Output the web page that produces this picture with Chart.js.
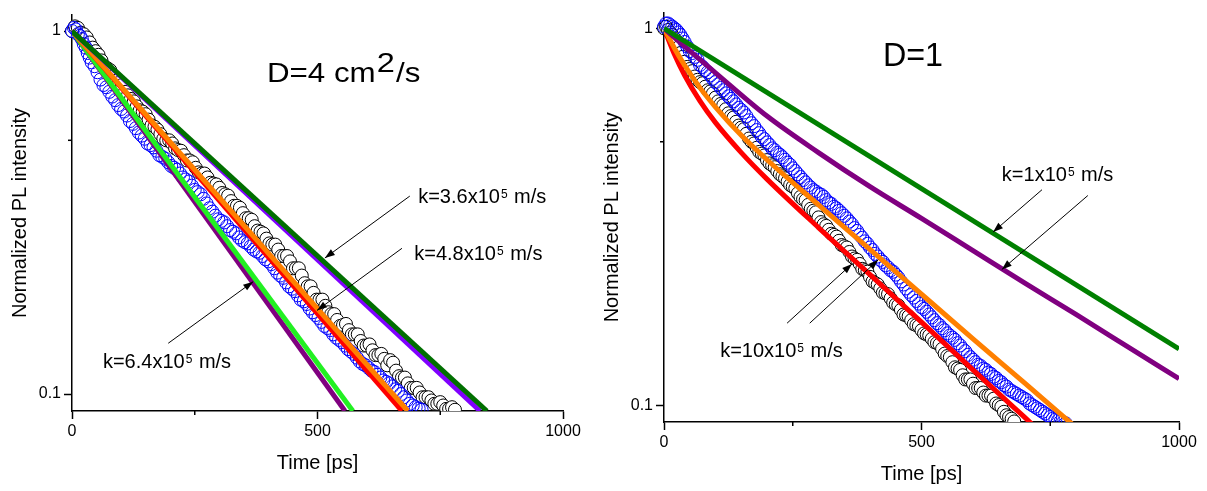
<!DOCTYPE html>
<html>
<head>
<meta charset="utf-8">
<script src="https://cdn.jsdelivr.net/npm/chart.js@4.4.1/dist/chart.umd.min.js"></script>
<style>
    html, body { margin: 0; padding: 0; background: #fff; }
    #wrap { position: relative; width: 1207px; height: 491px; }
    #left { position: absolute; left: 0; top: 0; }
    #right { position: absolute; left: 600px; top: 0; }
</style>
</head>
<body>
<div id="wrap">
    <canvas id="left" width="600" height="491"></canvas>
    <canvas id="right" width="607" height="491"></canvas>
</div>
<script>
const FONT = 'Arial, "Liberation Sans", Helvetica, sans-serif';

// ---- left panel (D=4 cm2/s) : measured decays ----
const leftBlackT = [0,12,24,36,48,60,72,84,96,108,120,132,144,156,168,180,192,204,216,228,240,252,264,276,288,300,312,324,336,348,360,372,384,396,408,420,432,444,456,468,480,492,504,516,528,540,552,564,576,588,600,612,624,636,648,660,672,684,696,708,720,732,744,756,768,780];
const leftBlackI = [1.00,1.02,0.98,0.93,0.88,0.83,0.79,0.75,0.72,0.68,0.65,0.62,0.60,0.57,0.545,0.52,0.50,0.49,0.47,0.455,0.44,0.42,0.405,0.395,0.38,0.37,0.355,0.34,0.33,0.315,0.305,0.29,0.28,0.268,0.258,0.25,0.24,0.232,0.222,0.212,0.198,0.19,0.182,0.175,0.166,0.16,0.155,0.150,0.146,0.14,0.136,0.132,0.128,0.125,0.124,0.116,0.111,0.107,0.104,0.101,0.098,0.096,0.094,0.093,0.091,0.0905];
const leftBlackMidT = [6,18,30,42,54,66,78,90,102,114,126,138,150,162,174,186,198,210,222,234,246,258,270,282,294,306,318,330,342,354,366,378,390,402,414,426,438,450,462,474,486,498,510,522,534,546,558,570,582,594,606,618,630,642,654,666,678,690,702,714,726,738,750,762,774];
const leftBlackMidI = [1.03,0.99,0.96,0.90,0.86,0.80,0.78,0.73,0.71,0.665,0.64,0.605,0.59,0.55,0.535,0.505,0.50,0.475,0.468,0.44,0.435,0.408,0.405,0.382,0.378,0.358,0.352,0.33,0.326,0.305,0.302,0.282,0.277,0.26,0.258,0.24,0.24,0.222,0.222,0.202,0.198,0.182,0.182,0.168,0.166,0.154,0.156,0.146,0.146,0.136,0.137,0.128,0.129,0.12,0.122,0.112,0.111,0.104,0.104,0.098,0.098,0.094,0.095,0.091,0.092];
const leftBlueT = [0,8,16,24,32,40,52,64,76,88,100,112,124,136,148,160,172,184,196,208,220,232,244,256,268,280,292,304,316,328,340,352,364,376,388,400,412,424,436,448,460,472,484,496,508,520,532,544,556,568,580,592,604,616,628,640,652,664,676,688,700,712];
const leftBlueI = [1.00,1.01,0.97,0.92,0.87,0.82,0.77,0.71,0.68,0.645,0.61,0.585,0.555,0.525,0.505,0.485,0.468,0.45,0.435,0.42,0.405,0.39,0.375,0.36,0.345,0.325,0.31,0.30,0.29,0.28,0.27,0.262,0.255,0.247,0.24,0.232,0.222,0.212,0.203,0.195,0.187,0.18,0.172,0.165,0.158,0.152,0.146,0.141,0.136,0.131,0.126,0.121,0.118,0.115,0.111,0.108,0.105,0.102,0.098,0.094,0.092,0.0905];
const leftBlueMidT = [4,12,20,28,36,46,58,70,82,94,106,118,130,142,154,166,178,190,202,214,226,238,250,262,274,286,298,310,322,334,346,358,370,382,394,406,418,430,442,454,466,478,490,502,514,526,538,550,562,574,586,598,610,622,634,646,658,670,682,694,706];
const leftBlueMidI = [1.02,0.98,0.95,0.90,0.845,0.80,0.735,0.70,0.66,0.625,0.60,0.565,0.54,0.515,0.49,0.478,0.455,0.445,0.425,0.415,0.395,0.385,0.365,0.355,0.335,0.318,0.303,0.297,0.283,0.277,0.265,0.26,0.25,0.245,0.235,0.228,0.216,0.209,0.198,0.192,0.182,0.177,0.168,0.162,0.154,0.15,0.143,0.139,0.133,0.129,0.123,0.12,0.116,0.113,0.109,0.107,0.103,0.1,0.096,0.093,0.0912];

// left panel fits (straight on log axis): start and end read at the bottom axis
const leftDkGreenT = [0, 845];  const leftDkGreenI = [1, 0.0898];
const leftVioletT  = [0, 831];  const leftVioletI  = [1, 0.0898];
const leftOrangeT  = [0, 684];  const leftOrangeI  = [1, 0.0898];
const leftRedT     = [0, 672];  const leftRedI     = [1, 0.0898];
const leftGreenT   = [0, 572];  const leftGreenI   = [1, 0.0898];
const leftPurpleT  = [0, 556];  const leftPurpleI  = [1, 0.0898];

// ---- right panel (D=1) ----
const rightBlackT = [0,8,16,24,32,40,50,60,70,80,90,100,110,120,130,140,150,160,170,180,190,200,210,220,230,240,250,260,270,280,290,300,310,320,330,340,350,360,370,380,390,400,410,420,430,440,450,460,470,480,490,500,510,520,530,540,550,560,570,580,590,600,610,620,630,640,650,660,670,680];
const rightBlackI = [1.00,0.99,0.96,0.92,0.86,0.815,0.78,0.745,0.72,0.70,0.68,0.655,0.63,0.61,0.585,0.565,0.545,0.525,0.50,0.482,0.465,0.447,0.433,0.418,0.405,0.392,0.38,0.365,0.352,0.34,0.328,0.315,0.302,0.292,0.283,0.273,0.264,0.255,0.245,0.237,0.228,0.219,0.211,0.204,0.198,0.192,0.185,0.179,0.173,0.168,0.163,0.158,0.154,0.15,0.146,0.141,0.135,0.13,0.125,0.12,0.117,0.114,0.111,0.108,0.106,0.104,0.10,0.096,0.093,0.0905];
const rightBlackMidT = [4,12,20,28,36,45,55,65,75,85,95,105,115,125,135,145,155,165,175,185,195,205,215,225,235,245,255,265,275,285,295,305,315,325,335,345,355,365,375,385,395,405,415,425,435,445,455,465,475,485,495,505,515,525,535,545,555,565,575,585,595,605,615,625,635,645,655,665,675];
const rightBlackMidI = [1.01,0.975,0.94,0.89,0.84,0.79,0.77,0.73,0.715,0.685,0.672,0.64,0.625,0.595,0.58,0.552,0.54,0.51,0.495,0.47,0.46,0.438,0.428,0.41,0.40,0.384,0.376,0.357,0.35,0.332,0.325,0.306,0.299,0.285,0.28,0.266,0.262,0.248,0.243,0.23,0.226,0.213,0.209,0.199,0.197,0.187,0.184,0.174,0.172,0.164,0.162,0.155,0.153,0.147,0.145,0.137,0.134,0.126,0.124,0.117,0.117,0.111,0.111,0.106,0.106,0.101,0.099,0.094,0.092];
const rightBlueT = [0,8,16,24,32,40,50,60,70,80,90,100,110,120,130,140,150,160,170,180,190,200,210,220,230,240,250,260,270,280,290,300,310,320,330,340,350,360,370,380,390,400,410,420,430,440,450,460,470,480,490,500,510,520,530,540,550,560,570,580,590,600,610,620,630,640,650,660,670,680,690,700,710,720,730,740,750,760,770,780];
const rightBlueI = [1.01,1.03,1.01,0.99,0.96,0.92,0.87,0.84,0.80,0.775,0.75,0.72,0.695,0.672,0.65,0.628,0.607,0.585,0.56,0.537,0.515,0.498,0.48,0.467,0.455,0.44,0.425,0.41,0.396,0.383,0.372,0.364,0.357,0.345,0.336,0.328,0.318,0.307,0.295,0.283,0.272,0.262,0.252,0.243,0.235,0.228,0.222,0.213,0.204,0.196,0.189,0.182,0.177,0.171,0.165,0.16,0.155,0.151,0.146,0.141,0.136,0.132,0.128,0.125,0.122,0.119,0.116,0.113,0.11,0.108,0.106,0.104,0.101,0.099,0.097,0.095,0.093,0.0915,0.0905,0.0895];
const rightBlueMidT = [4,12,20,28,36,45,55,65,75,85,95,105,115,125,135,145,155,165,175,185,195,205,215,225,235,245,255,265,275,285,295,305,315,325,335,345,355,365,375,385,395,405,415,425,435,445,455,465,475,485,495,505,515,525,535,545,555,565,575,585,595,605,615,625,635,645,655,665,675,685,695,705,715,725,735,745,755,765,775];
const rightBlueMidI = [1.03,1.02,1.00,0.975,0.94,0.895,0.86,0.825,0.79,0.765,0.735,0.71,0.685,0.66,0.64,0.615,0.598,0.57,0.55,0.527,0.508,0.49,0.475,0.462,0.448,0.434,0.418,0.403,0.39,0.378,0.369,0.362,0.35,0.342,0.333,0.323,0.313,0.302,0.29,0.278,0.268,0.258,0.248,0.24,0.232,0.226,0.218,0.209,0.2,0.193,0.186,0.18,0.174,0.168,0.163,0.158,0.153,0.149,0.144,0.139,0.134,0.13,0.127,0.124,0.121,0.118,0.115,0.112,0.109,0.107,0.105,0.103,0.1,0.098,0.096,0.094,0.092,0.091,0.09];

const rightRedT    = [0,20,40,70,100,150,200,300,400,500,600,700,720];
const rightRedI    = [1,0.855,0.751,0.641,0.562,0.468,0.398,0.296,0.222,0.166,0.124,0.0929,0.0877];
const rightOrangeT = [0,20,40,70,100,150,200,300,400,500,600,700,800];
const rightOrangeI = [1,0.887,0.798,0.695,0.618,0.520,0.448,0.340,0.259,0.197,0.150,0.1145,0.0873];
const rightPurpleT = [0,50,100,200,300,400,500,600,700,800,900,1000];
const rightPurpleI = [1,0.871,0.762,0.585,0.468,0.380,0.313,0.257,0.211,0.174,0.143,0.1175];
const rightGreenT  = [0, 1000];
const rightGreenI  = [1, 0.141];

// tick values
const xMajor = [0, 500, 1000];
const xMinor = [250, 750];
const yMajor = [0.1, 1];
const yMinor = [0.5];

function pts(t, v, t2, v2) {
    let p = t.map((x, i) => ({ x: x, y: v[i] }));
    if (t2) p = p.concat(t2.map((x, i) => ({ x: x, y: v2[i] })));
    return p.sort((a, b) => a.x - b.x);
}

function fitLine(t, v, color, smooth) {
    return {
        data: pts(t, v),
        showLine: true,
        borderColor: color,
        borderWidth: 5,
        pointRadius: 0,
        cubicInterpolationMode: smooth ? 'monotone' : 'default',
        clip: 0,
        order: 1
    };
}

function circles(data, color, fill) {
    return {
        data: data,
        showLine: false,
        pointRadius: 6.5,
        pointBorderWidth: 1,
        pointBorderColor: color,
        pointBackgroundColor: fill,
        clip: { left: 8, top: 8, right: 0, bottom: 0 },
        order: 2
    };
}

// short minor ticks drawn by hand
const minorTicks = {
    id: 'minorTicks',
    afterDraw(chart) {
        const ctx = chart.ctx;
        const sx = chart.scales.x, sy = chart.scales.y;
        ctx.save();
        ctx.strokeStyle = '#000';
        ctx.lineWidth = 1.5;
        xMinor.forEach(v => {
            const px = sx.getPixelForValue(v);
            ctx.beginPath(); ctx.moveTo(px, sx.top); ctx.lineTo(px, sx.top + 4); ctx.stroke();
        });
        yMinor.forEach(v => {
            const py = sy.getPixelForValue(v);
            ctx.beginPath(); ctx.moveTo(sy.right, py); ctx.lineTo(sy.right - 4, py); ctx.stroke();
        });
        ctx.restore();
    }
};

// texts and arrows, placed in data units
const notes = {
    id: 'notes',
    afterDraw(chart, args, opts) {
        const ctx = chart.ctx;
        const sx = chart.scales.x, sy = chart.scales.y;
        ctx.save();
        ctx.fillStyle = '#000';
        ctx.strokeStyle = '#000';
        ctx.lineWidth = 1;
        (opts.arrows || []).forEach(a => {
            const x0 = sx.getPixelForValue(a[0]), y0 = sy.getPixelForValue(a[1]);
            const x1 = sx.getPixelForValue(a[2]), y1 = sy.getPixelForValue(a[3]);
            const ang = Math.atan2(y1 - y0, x1 - x0);
            ctx.beginPath(); ctx.moveTo(x0, y0); ctx.lineTo(x1, y1); ctx.stroke();
            ctx.beginPath();
            ctx.moveTo(x1, y1);
            ctx.lineTo(x1 - 10 * Math.cos(ang) + 3.5 * Math.sin(ang), y1 - 10 * Math.sin(ang) - 3.5 * Math.cos(ang));
            ctx.lineTo(x1 - 10 * Math.cos(ang) - 3.5 * Math.sin(ang), y1 - 10 * Math.sin(ang) + 3.5 * Math.cos(ang));
            ctx.closePath();
            ctx.fill();
        });
        ctx.textBaseline = 'alphabetic';
        ctx.textAlign = 'left';
        (opts.labels || []).forEach(l => {
            const px = sx.getPixelForValue(l.t);
            const py = sy.getPixelForValue(l.v);
            ctx.save();
            ctx.translate(px, py);
            ctx.scale(l.stretch || 1, 1);
            let x = 0;
            l.parts.forEach(p => {
                ctx.font = p[1] + 'px ' + FONT;
                ctx.fillText(p[0], x, -p[2]);
                x += ctx.measureText(p[0]).width + (p[3] || 0);
            });
            ctx.restore();
        });
        ctx.restore();
    }
};

function makeChart(id, datasets, o) {
    return new Chart(document.getElementById(id), {
        type: 'scatter',
        data: { datasets: datasets },
        options: {
            responsive: false,
            animation: false,
            layout: { padding: { top: o.top, right: o.right, left: 0, bottom: 0 } },
            plugins: {
                legend: { display: false },
                tooltip: { enabled: false },
                notes: o.notes
            },
            scales: {
                x: {
                    type: 'linear',
                    min: 0,
                    max: 1000,
                    afterBuildTicks: s => { s.ticks = xMajor.map(v => ({ value: v })); },
                    afterFit: s => { s.height = o.xHeight; },
                    ticks: { color: '#000', font: { family: FONT, size: 16 }, padding: 3, maxRotation: 0, callback: v => String(v) },
                    grid: { drawOnChartArea: false, tickLength: 8, tickColor: '#000', tickWidth: 1.5 },
                    border: { color: '#000', width: 1.5 },
                    title: { display: true, text: 'Time [ps]', color: '#000', font: { family: FONT, size: 20 }, padding: { top: 0, bottom: o.xTitlePad } }
                },
                y: {
                    type: 'logarithmic',
                    min: o.yMin,
                    max: o.yMax,
                    afterBuildTicks: s => { s.ticks = yMajor.map(v => ({ value: v })); },
                    afterFit: s => { s.width = o.yWidth; },
                    ticks: { color: '#000', font: { family: FONT, size: 16 }, padding: 3, callback: v => (v === 1 ? '1' : '0.1') },
                    grid: { drawOnChartArea: false, tickLength: 8, tickColor: '#000', tickWidth: 1.5 },
                    border: { color: '#000', width: 1.5 },
                    title: { display: true, text: 'Normalized PL intensity', color: '#000', font: { family: FONT, size: 20 }, padding: { top: o.yTitlePad, bottom: 0 } }
                }
            }
        },
        plugins: [minorTicks, notes]
    });
}

const sup = (a, b) => [[a, 20, 0, 1], [b, 12, 5, 1], [' m/s', 20, 0]];

makeChart('left', [
    fitLine(leftDkGreenT, leftDkGreenI, '#006f00'),
    fitLine(leftVioletT, leftVioletI, '#8000ff'),
    fitLine(leftOrangeT, leftOrangeI, '#ff8000'),
    fitLine(leftRedT, leftRedI, '#ff0000'),
    fitLine(leftGreenT, leftGreenI, '#22f022'),
    fitLine(leftPurpleT, leftPurpleI, '#800080'),
    circles(pts(leftBlueT, leftBlueI, leftBlueMidT, leftBlueMidI), '#0000ff', 'rgba(0,0,0,0)'),
    circles(pts(leftBlackT, leftBlackI, leftBlackMidT, leftBlackMidI), '#000000', '#ffffff')
], {
    top: 15, right: 37, xHeight: 80, yWidth: 72, yMin: 0.0898, yMax: 1.107, xTitlePad: 16, yTitlePad: 8,
    notes: {
        labels: [
            { t: 397, v: 0.724, stretch: 1.16, parts: [['D=4 cm', 27, 0, 1], ['2', 28, 10, 1], ['/s', 27, 0]] },
            { t: 705, v: 0.336, parts: sup('k=3.6x10', '5') },
            { t: 697, v: 0.234, parts: sup('k=4.8x10', '5') },
            { t: 63, v: 0.118, parts: sup('k=6.4x10', '5') }
        ],
        arrows: [[688, 0.351, 515, 0.237], [672, 0.252, 499, 0.170], [196, 0.138, 369, 0.204]]
    }
});

makeChart('right', [
    fitLine(rightGreenT, rightGreenI, '#008000'),
    fitLine(rightPurpleT, rightPurpleI, '#800080', true),
    fitLine(rightOrangeT, rightOrangeI, '#ff8000', true),
    fitLine(rightRedT, rightRedI, '#ff0000', true),
    circles(pts(rightBlueT, rightBlueI, rightBlueMidT, rightBlueMidI), '#0000ff', 'rgba(0,0,0,0)'),
    circles(pts(rightBlackT, rightBlackI, rightBlackMidT, rightBlackMidI), '#000000', '#ffffff')
], {
    top: 8, right: 28, xHeight: 69, yWidth: 64, yMin: 0.0902, yMax: 1.101, xTitlePad: 5, yTitlePad: 0,
    notes: {
        labels: [
            { t: 425, v: 0.795, stretch: 0.95, parts: [['D=1', 34, 0]] },
            { t: 656, v: 0.394, parts: sup('k=1x10', '5') },
            { t: 109, v: 0.1345, parts: sup('k=10x10', '5') }
        ],
        arrows: [[734, 0.373, 639, 0.288], [823, 0.36, 656, 0.229], [239, 0.165, 365, 0.237], [283, 0.165, 416, 0.243]]
    }
});
</script>
</body>
</html>
